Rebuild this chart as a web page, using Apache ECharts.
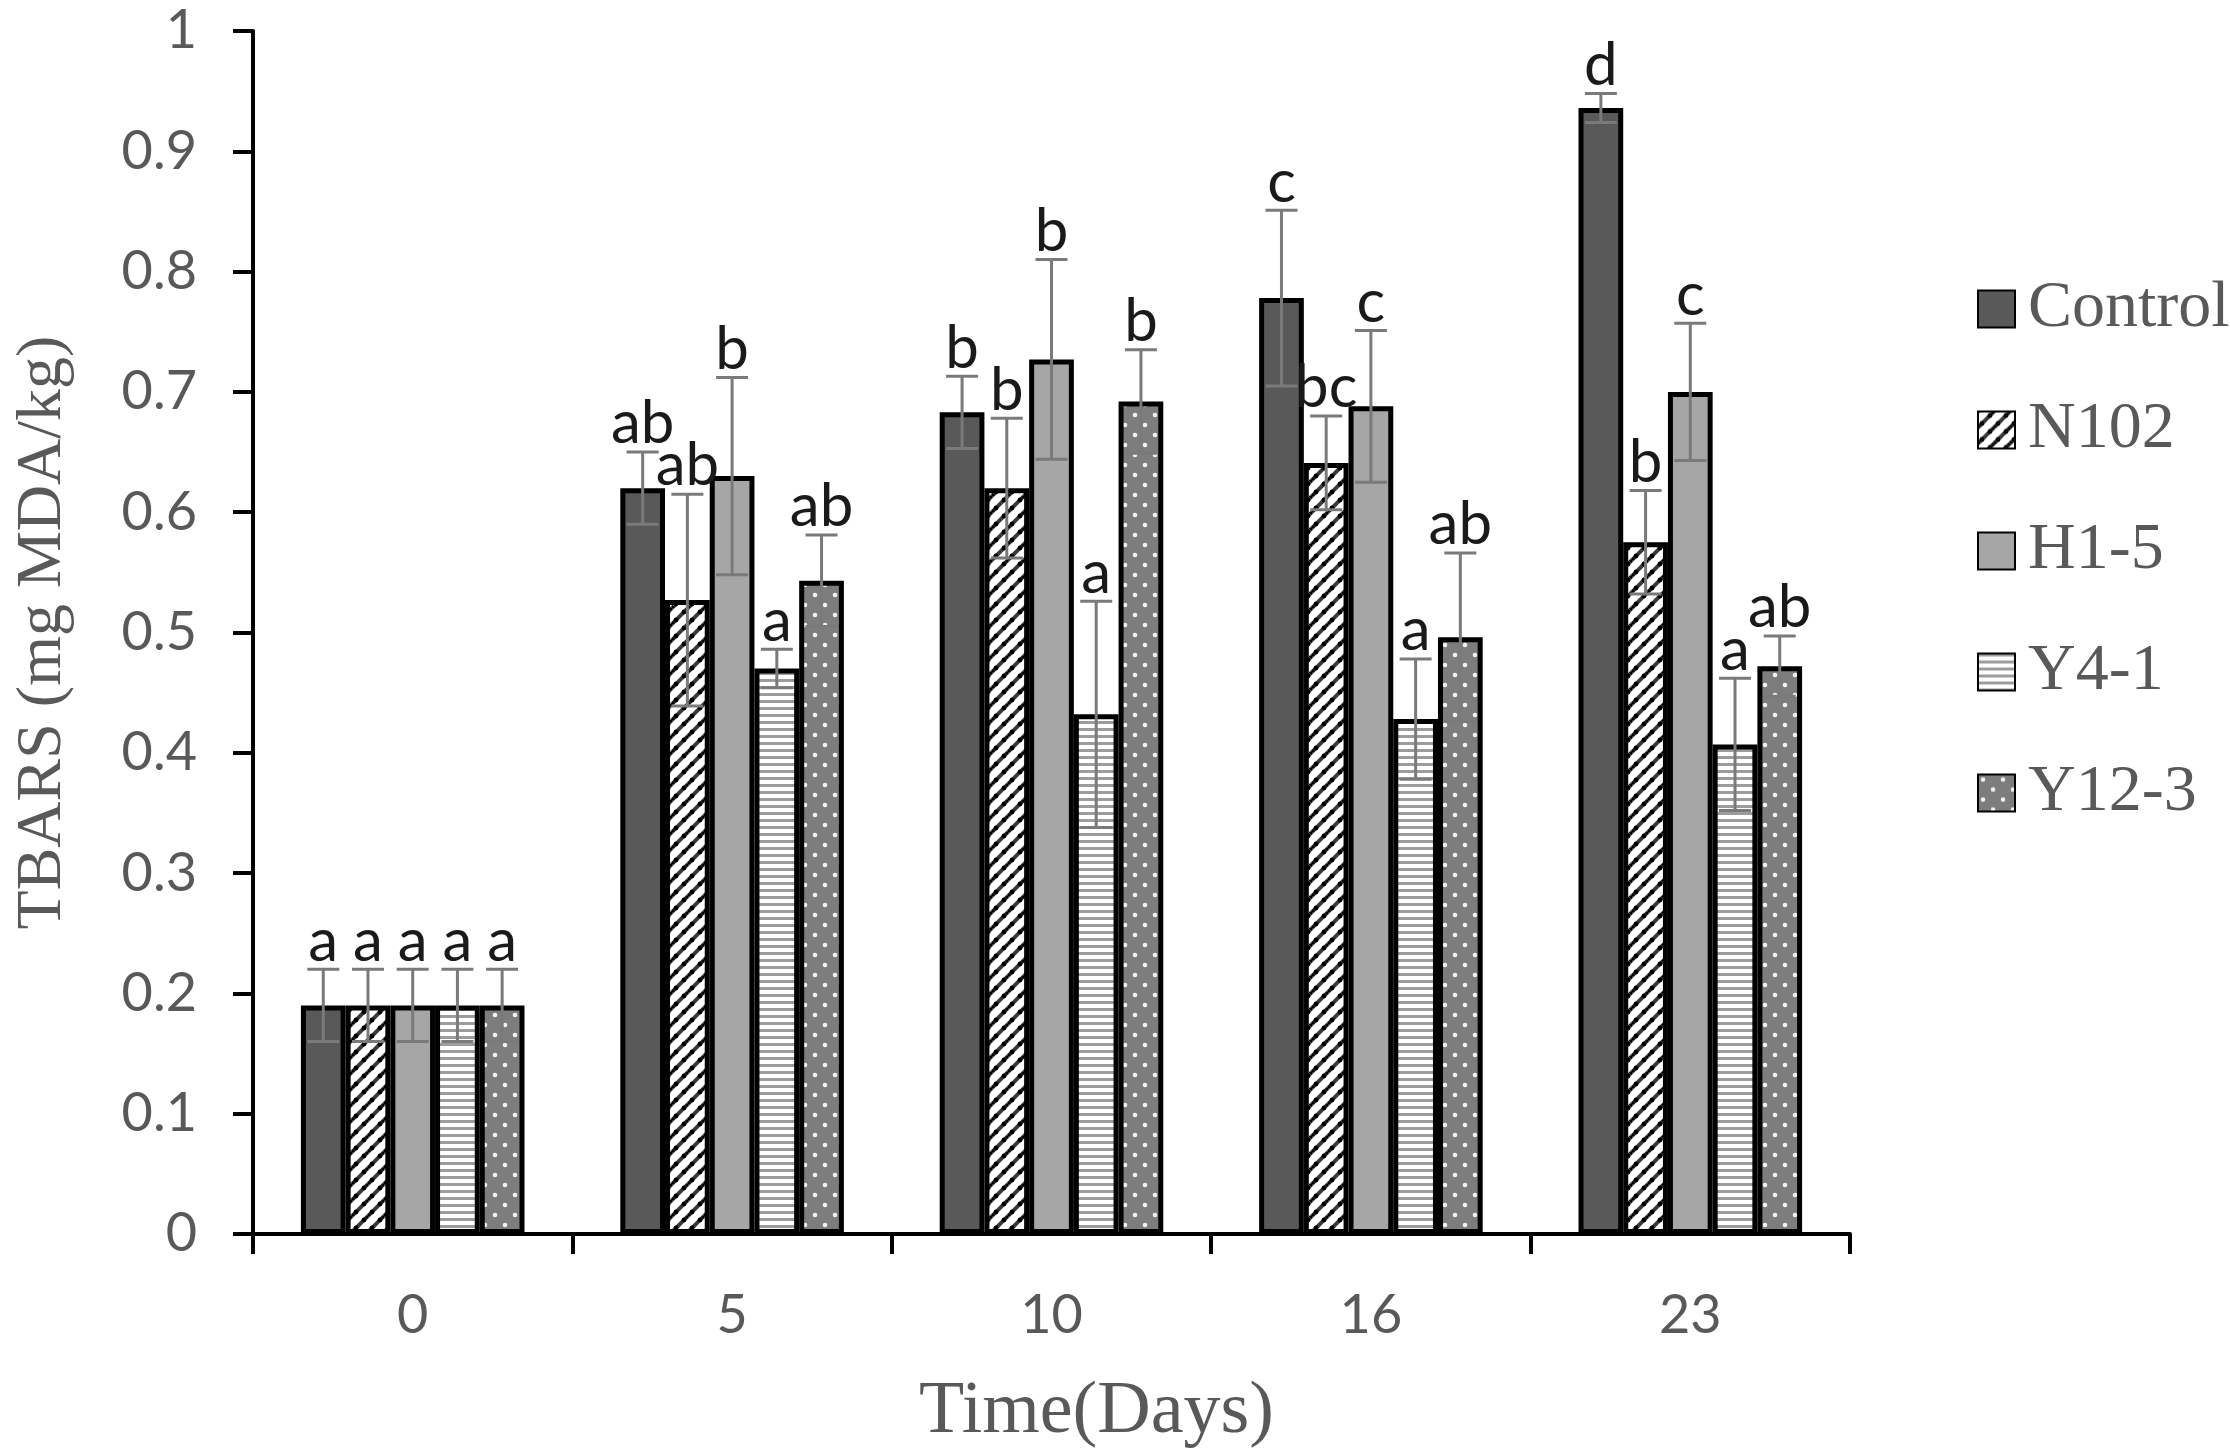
<!DOCTYPE html>
<html>
<head>
<meta charset="utf-8">
<script src="https://cdn.jsdelivr.net/npm/echarts@6/dist/echarts.min.js"></script>
<style>
  html, body { margin: 0; padding: 0; background: #fff; }
  #chart { width: 2230px; height: 1455px; }
</style>
</head>
<body>
<div id="chart"></div>
<script>
// data
const days = ['0', '5', '10', '16', '23'];
const treatments = ['Control', 'N102', 'H1-5', 'Y4-1', 'Y12-3'];

const controlVals = [0.19, 0.62, 0.683, 0.778, 0.936];
const n102Vals    = [0.19, 0.527, 0.62, 0.641, 0.575];
const h15Vals     = [0.19, 0.63, 0.727, 0.688, 0.70];
const y41Vals     = [0.19, 0.47, 0.432, 0.428, 0.407];
const y123Vals    = [0.19, 0.543, 0.692, 0.496, 0.472];

const controlErr = [0.03, 0.03, 0.03, 0.073, 0.012];
const n102Err    = [0.03, 0.088, 0.058, 0.039, 0.043];
const h15Err     = [0.03, 0.082, 0.083, 0.063, 0.057];
const y41Err     = [0.03, 0.016, 0.094, 0.05, 0.055];
const y123Err    = [0.03, 0.038, 0.043, 0.07, 0.025];

const controlSig = ['a', 'ab', 'b', 'c', 'd'];
const n102Sig    = ['a', 'ab', 'b', 'bc', 'b'];
const h15Sig     = ['a', 'b', 'b', 'c', 'c'];
const y41Sig     = ['a', 'a', 'a', 'a', 'a'];
const y123Sig    = ['a', 'ab', 'b', 'ab', 'ab'];

const values = [controlVals, n102Vals, h15Vals, y41Vals, y123Vals];
const errors = [controlErr, n102Err, h15Err, y41Err, y123Err];
const sigs = [controlSig, n102Sig, h15Sig, y41Sig, y123Sig];

// fill patterns
function tile(w, h, draw) {
  const c = document.createElement('canvas');
  c.width = w; c.height = h;
  draw(c.getContext('2d'));
  return c;
}
const hatch = tile(16, 16, function (ctx) {
  ctx.fillStyle = '#fff';
  ctx.fillRect(0, 0, 16, 16);
  ctx.strokeStyle = '#3a3a3a';
  ctx.lineWidth = 4;
  ctx.beginPath();
  ctx.moveTo(-4, 20); ctx.lineTo(20, -4);
  ctx.moveTo(-12, 12); ctx.lineTo(12, -12);
  ctx.moveTo(4, 28); ctx.lineTo(28, 4);
  ctx.stroke();
  ctx.fillStyle = '#000';
  [[4, 12], [12, 4], [0, 16], [16, 0]].forEach(function (p) {
    ctx.beginPath(); ctx.arc(p[0], p[1], 2.4, 0, Math.PI * 2); ctx.fill();
  });
});
const stripes = tile(4, 7, function (ctx) {
  ctx.fillStyle = '#fff';
  ctx.fillRect(0, 0, 4, 7);
  ctx.fillStyle = '#9c9c9c';
  ctx.fillRect(0, 0, 4, 3);
});
const dots = tile(20, 20, function (ctx) {
  ctx.fillStyle = '#7d7d7d';
  ctx.fillRect(0, 0, 20, 20);
  ctx.fillStyle = '#f2f2f2';
  ctx.beginPath(); ctx.arc(5, 5, 2.3, 0, Math.PI * 2); ctx.fill();
  ctx.beginPath(); ctx.arc(15, 15, 2.3, 0, Math.PI * 2); ctx.fill();
});

const fills = [
  '#595959',
  { image: hatch, repeat: 'repeat' },
  '#a6a6a6',
  { image: stripes, repeat: 'repeat' },
  { image: dots, repeat: 'repeat' }
];

const catGap = 0.3;
const nBars = treatments.length;

const barSeries = treatments.map(function (name, i) {
  return {
    name: name,
    type: 'bar',
    data: values[i],
    barGap: '0%',
    barCategoryGap: '30%',
    itemStyle: { color: fills[i], borderColor: '#000', borderWidth: 5 },
    z: 2
  };
});

// error bars + letters
const errData = [];
treatments.forEach(function (name, i) {
  days.forEach(function (d, j) {
    errData.push([j, values[i][j], errors[i][j], i, sigs[i][j]]);
  });
});

const errSeries = {
  name: 'err',
  type: 'custom',
  data: errData,
  z: 10,
  encode: { x: 0, y: 1 },
  renderItem: function (params, api) {
    const cat = api.value(0);
    const v = api.value(1);
    const e = api.value(2);
    const s = api.value(3);
    const letter = errData[params.dataIndex][4];
    const band = api.size([1, 0])[0];
    const bw = band * (1 - catGap) / nBars;
    const center = api.coord([cat, v]);
    const x = center[0] - band * (1 - catGap) / 2 + (s + 0.5) * bw;
    const yTop = api.coord([cat, v + e])[1];
    const yBot = api.coord([cat, v - e])[1];
    const cap = 16;
    const st = { stroke: '#7a7a7a', lineWidth: 3 };
    return {
      type: 'group',
      children: [
        { type: 'line', shape: { x1: x, y1: yTop, x2: x, y2: yBot }, style: st },
        { type: 'line', shape: { x1: x - cap, y1: yTop, x2: x + cap, y2: yTop }, style: st },
        { type: 'line', shape: { x1: x - cap, y1: yBot, x2: x + cap, y2: yBot }, style: st },
        {
          type: 'text',
          style: {
            x: x, y: yTop + 2, text: letter,
            textAlign: 'center', textVerticalAlign: 'bottom',
            font: '60px Lato', fill: '#1a1a1a'
          }
        }
      ]
    };
  }
};

const chart = echarts.init(document.getElementById('chart'));
chart.setOption({
  animation: false,
  backgroundColor: '#fff',
  grid: { left: 253, right: 380, top: 31, bottom: 221 },
  legend: {
    data: treatments,
    orient: 'vertical',
    left: 1972,
    top: 271,
    itemWidth: 37,
    itemHeight: 37,
    itemGap: 55,
    icon: 'rect',
    textStyle: { fontFamily: 'Liberation Serif', fontSize: 66, color: '#595959', padding: [0, 0, 0, 8] }
  },
  xAxis: {
    type: 'category',
    data: days,
    name: 'Time(Days)',
    nameLocation: 'middle',
    nameGap: 142,
    nameTextStyle: { fontFamily: 'Liberation Serif', fontSize: 74, color: '#595959', padding: [0, 0, 0, 90] },
    axisLine: { lineStyle: { color: '#000', width: 4 } },
    axisTick: { show: true, length: 20, lineStyle: { color: '#000', width: 4 } },
    axisLabel: { margin: 55, fontFamily: 'Lato', fontSize: 54, color: '#595959' }
  },
  yAxis: {
    type: 'value',
    min: 0,
    max: 1,
    interval: 0.1,
    name: 'TBARS (mg MDA/kg)',
    nameLocation: 'middle',
    nameRotate: 90,
    nameGap: 178,
    nameTextStyle: { fontFamily: 'Liberation Serif', fontSize: 64, color: '#595959' },
    axisLine: { show: true, lineStyle: { color: '#000', width: 4 } },
    axisTick: { show: true, length: 20, lineStyle: { color: '#000', width: 4 } },
    axisLabel: { margin: 56, fontFamily: 'Lato', fontSize: 54, color: '#595959' },
    splitLine: { show: false }
  },
  series: barSeries.concat([errSeries])
});
</script>
</body>
</html>
